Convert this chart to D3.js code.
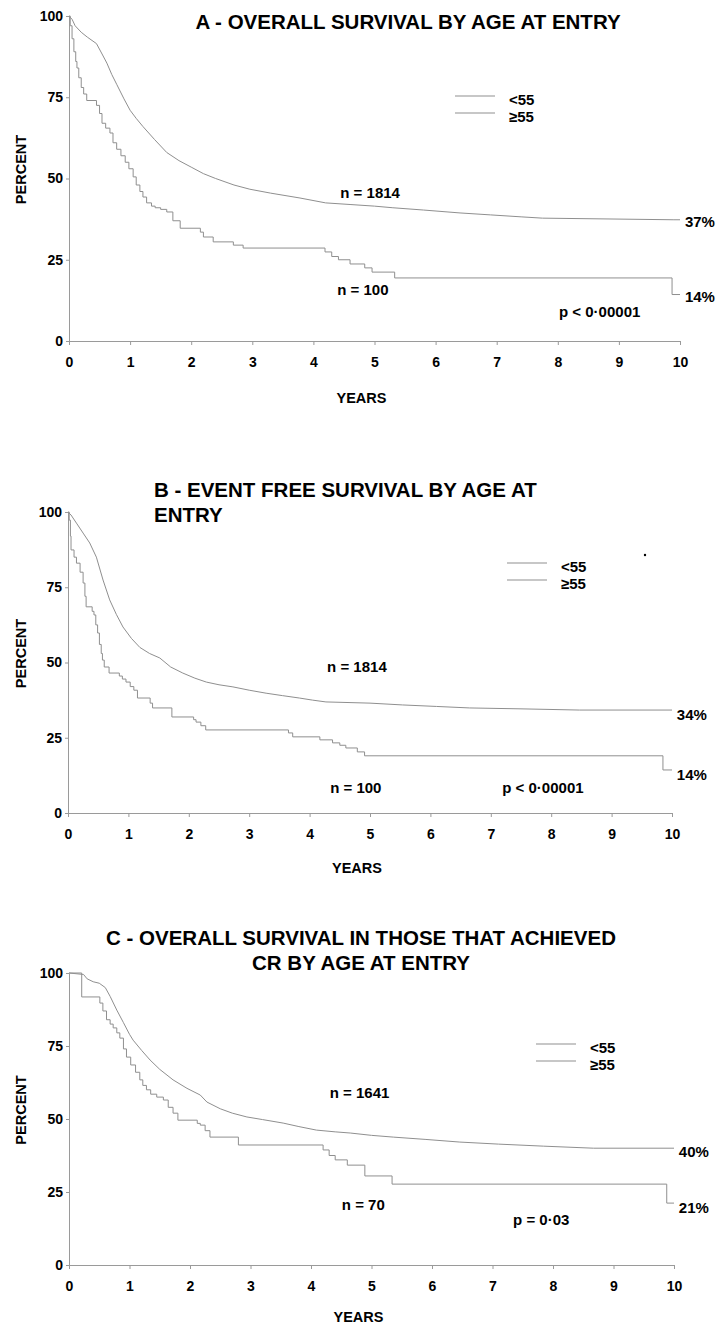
<!DOCTYPE html>
<html>
<head>
<meta charset="utf-8">
<script src="https://cdn.jsdelivr.net/npm/d3@7"></script>
<style>
  body { margin: 0; background: #fff; }
  svg { display: block; }
</style>
</head>
<body>
<div id="canvas"></div>
<script>
"use strict"

/* Values, as [years, percent] steps */
let yearTicks = [0, 1, 2, 3, 4, 5, 6, 7, 8, 9, 10];
let percentTicks = [0, 25, 50, 75, 100];
let groupLabels = ["<55", "\u226555"];

let overallUnder55 = [[0,100],[0.05,99],[0.1,97],[0.2,95],[0.3,93.5],[0.45,91.5],[0.55,88],[0.62,85.5],
  [0.7,82],[0.78,79],[0.9,74.5],[1.0,71],[1.1,68.5],[1.21,66],[1.4,62],[1.6,58],[1.8,55.5],[2.0,53.5],
  [2.2,51.5],[2.4,50],[2.7,48],[2.96,46.7],[3.3,45.5],[3.78,44],[4.2,42.5],[4.6,42],[5.0,41.5],[5.3,41],
  [5.8,40.3],[6.4,39.4],[6.9,38.8],[7.4,38.2],[7.75,37.8],[9.9,37.3],[10,37.3]];
let overallOver55 = [[0,100],[0.02,97],[0.05,93],[0.08,89],[0.11,86],[0.13,84],[0.16,81],[0.2,78],[0.24,76],
  [0.29,74],[0.45,72.5],[0.5,70],[0.54,67],[0.6,65.5],[0.67,64],[0.72,61],[0.78,59],[0.85,57],[0.92,55],
  [0.98,53],[1.05,50.5],[1.1,48],[1.16,46],[1.21,44.3],[1.27,42.5],[1.35,41.5],[1.41,41],[1.5,40.5],
  [1.6,39.7],[1.7,37],[1.82,34.7],[2.15,33.5],[2.2,32],[2.36,30.5],[2.69,29.5],[2.85,28.6],[4.19,27.4],
  [4.3,26],[4.41,25],[4.6,23.7],[4.84,22.5],[4.96,21.2],[5.33,19.4],[9.87,14.3],[10,14.3]];

let eventFreeUnder55 = [[0,100],[0.05,99],[0.14,96.3],[0.25,93],[0.36,89.7],[0.47,85],[0.58,77.4],[0.69,70.8],
  [0.8,66],[0.91,61.8],[1.05,58],[1.19,55],[1.35,53],[1.52,51.5],[1.7,48.5],[1.9,46.5],[2.1,44.8],[2.29,43.5],
  [2.5,42.6],[2.73,41.9],[3.0,40.8],[3.28,39.8],[3.55,39],[3.83,38.2],[4.05,37.5],[4.27,36.9],[5.0,36.5],
  [5.54,35.9],[6.1,35.4],[6.65,34.9],[7.5,34.6],[8.47,34.2],[10,34.2]];
let eventFreeOver55 = [[0,100],[0.02,97.3],[0.04,92],[0.05,87.4],[0.1,85],[0.14,83],[0.2,80],[0.25,76.4],
  [0.28,72],[0.3,68.5],[0.4,67],[0.43,65.8],[0.46,62.5],[0.49,59.8],[0.52,56],[0.55,53],[0.57,50.8],[0.6,48.5],
  [0.68,46.5],[0.85,45.5],[0.9,44.5],[0.96,43.5],[1.03,42],[1.09,40.8],[1.15,38.2],[1.36,36.5],[1.4,34.9],
  [1.72,31.9],[2.08,31],[2.12,30.2],[2.2,29],[2.28,27.6],[3.65,26.6],[3.72,25.3],[4.17,24.3],[4.38,23.3],
  [4.5,22.5],[4.6,21.6],[4.79,20.3],[4.91,19],[9.85,14.3],[10,14.3]];

let crUnder55 = [[0,100],[0.24,99.5],[0.3,98],[0.4,97],[0.5,96.5],[0.6,95],[0.68,92],[0.79,87.3],[0.9,83],
  [1.0,79],[1.06,77],[1.2,73.5],[1.34,70.2],[1.5,67],[1.72,63.4],[1.95,60.5],[2.17,58.2],[2.28,55.8],
  [2.5,53.5],[2.7,52],[2.94,50.7],[3.2,49.8],[3.54,48.6],[3.8,47.4],[4.09,46.2],[4.4,45.6],[4.65,45.2],
  [5.0,44.4],[5.36,43.8],[5.9,43],[6.46,42.1],[7.1,41.4],[7.84,40.7],[8.67,40],[10,40]];
let crOver55 = [[0,100],[0.21,91.8],[0.51,89.7],[0.56,87],[0.62,84],[0.68,82.5],[0.73,81.2],[0.79,79.5],
  [0.84,77.7],[0.9,74],[0.95,71.2],[1.02,68.5],[1.1,66],[1.17,63.4],[1.22,61.5],[1.28,60],[1.35,58.5],
  [1.45,57.5],[1.56,56.5],[1.64,54],[1.72,52],[1.8,49.6],[2.12,48.5],[2.17,47.9],[2.25,46],[2.33,43.8],
  [2.8,41.1],[4.2,39.4],[4.3,37.5],[4.4,36],[4.6,34.2],[4.89,30.5],[5.34,27.7],[9.88,21.2],[10,21.2]];

let sampleSizes = [["n = 1814", "n = 100"], ["n = 1814", "n = 100"], ["n = 1641", "n = 70"]];
let pValues = ["p < 0\u00B700001", "p < 0\u00B700001", "p = 0\u00B703"];
let finalPercents = [["37%", "14%"], ["34%", "14%"], ["40%", "21%"]];

/* Shared styles */
let fontFamily = "'Liberation Sans', Arial, Helvetica, sans-serif";
let curveGrey = "#8f8f8f";
let axisGrey = "#9a9a9a";

let drawing = d3.select("#canvas")
    .append("svg")
    .attr("width", 716)
    .attr("height", 1326)
    .attr("font-family", fontFamily)
    .attr("font-weight", "bold");

/* One Kaplan-Meier panel */
function drawPanel(p) {
    let x = d3.scaleLinear().domain([0, 10]).range([p.left, p.right]);
    let y = d3.scaleLinear().domain([0, 100]).range([p.bottom, p.top]);
    let g = drawing.append("g");

    let yAxis = g.append("g")
        .attr("transform", "translate(" + p.left + ",0)")
        .call(d3.axisLeft(y).tickValues(percentTicks).tickSize(3).tickSizeOuter(0).tickPadding(3));
    let xAxis = g.append("g")
        .attr("transform", "translate(0," + p.bottom + ")")
        .call(d3.axisBottom(x).tickValues(yearTicks).tickSize(4).tickSizeOuter(0).tickPadding(12));
    [yAxis, xAxis].forEach(function (a) {
        a.attr("font-family", fontFamily).attr("font-size", 14).attr("font-weight", "bold");
        a.select(".domain").attr("stroke", axisGrey);
        a.selectAll(".tick line").attr("stroke", axisGrey);
        a.selectAll(".tick text").attr("fill", "#000");
    });

    /* Survival curves: the big group has tiny steps, so it reads as a smooth line */
    let smoothLine = d3.line()
        .x(d => x(d[0]))
        .y(d => y(d[1]));
    let stepLine = d3.line()
        .x(d => x(d[0]))
        .y(d => y(d[1]))
        .curve(d3.curveStepAfter);
    g.append("path")
        .datum(p.under)
        .attr("d", smoothLine)
        .attr("fill", "none")
        .attr("stroke", curveGrey)
        .attr("stroke-width", 1);
    g.append("path")
        .datum(p.over)
        .attr("d", stepLine)
        .attr("fill", "none")
        .attr("stroke", curveGrey)
        .attr("stroke-width", 1);

    /* Titles */
    p.title.forEach(function (t, i) {
        g.append("text")
            .attr("x", p.titleX)
            .attr("y", p.titleY + i * 25)
            .attr("text-anchor", p.titleAnchor)
            .attr("font-size", 20.5)
            .text(t);
    });

    /* Axis titles */
    g.append("text")
        .attr("x", (p.left + p.right) / 2 - 13)
        .attr("y", p.yearsY)
        .attr("font-size", 14.5)
        .attr("text-anchor", "middle")
        .text("YEARS");
    g.append("text")
        .attr("transform", "translate(26," + ((p.top + p.bottom) / 2 - 9) + ") rotate(-90)")
        .attr("font-size", 14.5)
        .attr("text-anchor", "middle")
        .text("PERCENT");

    /* Legend */
    groupLabels.forEach(function (lab, i) {
        g.append("line")
            .attr("x1", p.legendX)
            .attr("x2", p.legendX + 40)
            .attr("y1", p.legendY + i * 17)
            .attr("y2", p.legendY + i * 17)
            .attr("stroke", curveGrey)
            .attr("stroke-width", 1);
        g.append("text")
            .attr("x", p.legendX + 54)
            .attr("y", p.legendY + 9 + i * 17)
            .attr("font-size", 15)
            .text(lab);
    });

    /* Annotations placed in data units */
    function note(txt, t, pct) {
        g.append("text")
            .attr("x", x(t))
            .attr("y", y(pct))
            .attr("font-size", 15)
            .text(txt);
    }
    note(sampleSizes[p.idx][0], p.nUnder[0], p.nUnder[1]);
    note(sampleSizes[p.idx][1], p.nOver[0], p.nOver[1]);
    note(pValues[p.idx], p.pPos[0], p.pPos[1]);
    note(finalPercents[p.idx][0], 10.08, p.endUnder);
    note(finalPercents[p.idx][1], 10.08, p.endOver);
}

drawPanel({
    idx: 0, left: 69, right: 680, top: 16, bottom: 341, yearsY: 403,
    under: overallUnder55, over: overallOver55,
    title: ["A - OVERALL SURVIVAL BY AGE AT ENTRY"], titleX: 408, titleY: 29, titleAnchor: "middle",
    legendX: 455, legendY: 96,
    nUnder: [4.44, 44], nOver: [4.39, 14.2], pPos: [8.02, 7.4], endUnder: 35, endOver: 12
});

drawPanel({
    idx: 1, left: 68, right: 672, top: 512, bottom: 813, yearsY: 873,
    under: eventFreeUnder55, over: eventFreeOver55,
    title: ["B - EVENT FREE SURVIVAL BY AGE AT", "ENTRY"], titleX: 154, titleY: 497, titleAnchor: "start",
    legendX: 507, legendY: 563,
    nUnder: [4.29, 46.8], nOver: [4.34, 6.6], pPos: [7.19, 6.6], endUnder: 30.9, endOver: 11
});

/* stray dot printed in panel B */
let strayDot = drawing.append("circle")
    .attr("cx", 645)
    .attr("cy", 555)
    .attr("r", 1.2)
    .attr("fill", "#000");

drawPanel({
    idx: 2, left: 69, right: 674, top: 973, bottom: 1265, yearsY: 1322,
    under: crUnder55, over: crOver55,
    title: ["C - OVERALL SURVIVAL IN THOSE THAT ACHIEVED", "CR BY AGE AT ENTRY"], titleX: 361, titleY: 945, titleAnchor: "middle",
    legendX: 536, legendY: 1044,
    nUnder: [4.31, 57.2], nOver: [4.51, 18.8], pPos: [7.34, 13.7], endUnder: 37, endOver: 17.8
});
</script>
</body>
</html>
